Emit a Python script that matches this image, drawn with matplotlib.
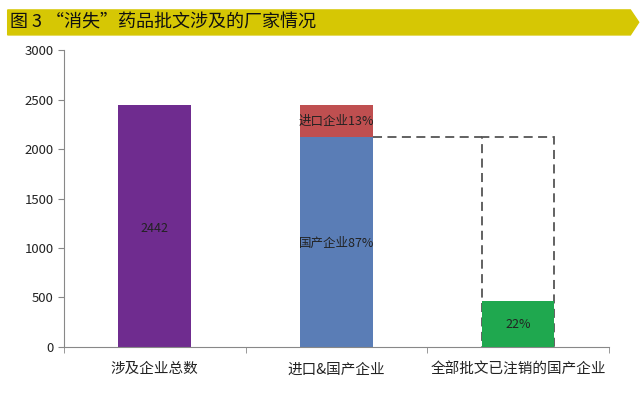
import matplotlib.pyplot as plt
import numpy as np
from matplotlib.patches import Polygon, Rectangle

plt.rcParams['font.family'] = ['Noto Sans CJK SC', 'DejaVu Sans']

# data
categories = ['涉及企业总数', '进口&国产企业', '全部批文已注销的国产企业']
total = 2442
domestic = 2120
imported = total - domestic
cancelled = 460
labels_total = '2442'
label_import = '进口企业13%'
label_domestic = '国产企业87%'
label_cancel = '22%'
title = '图 3 “消失”药品批文涉及的厂家情况'

fig = plt.figure(figsize=(6.4, 3.97), dpi=100)
ax = fig.add_axes([0.1, 0.126, 0.851, 0.748])

x = np.arange(len(categories))
w = 0.4
ax.bar(x[0], total, width=w, color='#6F2C8F')
ax.bar(x[1], domestic, width=w, color='#5A7DB6')
ax.bar(x[1], imported, bottom=domestic, width=w, color='#BF4F50')

# dashed outline for domestic companies in third column
ax.add_patch(Rectangle((x[2] - w / 2, 0), w, domestic, fill=False,
                       edgecolor='#555555', linestyle=(0, (5, 3)), lw=1.3, zorder=2))
ax.bar(x[2], cancelled, width=w, color='#1FA84F', zorder=3)
ax.plot([x[1] + w / 2, x[2] - w / 2], [domestic, domestic], color='#555555',
        linestyle=(0, (5, 3)), lw=1.3)

ax.text(x[0], 1200, labels_total, ha='center', va='center', fontsize=9, color='#222222')
ax.text(x[1], domestic + imported / 2, label_import, ha='center', va='center', fontsize=9,
        color='#222222')
ax.text(x[1], 1050, label_domestic, ha='center', va='center', fontsize=9, color='#222222')
ax.text(x[2], cancelled / 2, label_cancel, ha='center', va='center', fontsize=9,
        color='#222222', zorder=4)

ax.set_xlim(-0.5, 2.5)
ax.set_ylim(0, 3000)
ax.set_yticks(np.arange(0, 3001, 500))
ax.set_xticks(x)
ax.set_xticklabels(categories, fontsize=10.5, color='#222222')
ax.set_xticks([-0.5, 0.5, 1.5, 2.5], minor=True)
ax.tick_params(axis='x', which='major', length=0, pad=11)
ax.tick_params(axis='x', which='minor', length=4, color='#888888')
ax.tick_params(axis='y', labelsize=9.5, length=4, color='#888888', labelcolor='#222222')
for s in ['top', 'right']:
    ax.spines[s].set_visible(False)
for s in ['left', 'bottom']:
    ax.spines[s].set_color('#888888')

# yellow title banner
banner = Polygon([[0.012, 0.975], [0.985, 0.975], [0.998, 0.944], [0.985, 0.912], [0.012, 0.912]],
                 closed=True, transform=fig.transFigure, color='#D6C704', zorder=0)
fig.patches.append(banner)
fig.text(0.016, 0.944, title, fontsize=13, va='center', ha='left', color='#111111')

fig.savefig('out.png', dpi=100)
